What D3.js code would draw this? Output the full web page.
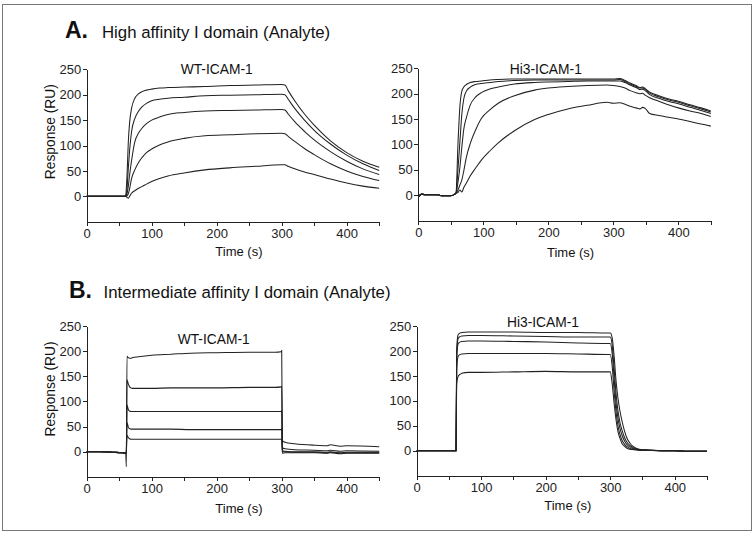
<!DOCTYPE html>
<html>
<head>
<meta charset="utf-8">
<script src="https://cdn.jsdelivr.net/npm/d3@7"></script>
<style>
  body { margin: 0; background: #fff; }
  svg { display: block; font-family: 'Liberation Sans', Arial, sans-serif; }
  .axis path, .axis line { stroke: #222; stroke-width: 1; shape-rendering: crispEdges; }
  .axis text { fill: #222; font-size: 13px; font-family: 'Liberation Sans', Arial, sans-serif; }
  .trace { fill: none; stroke: #222; stroke-width: 1.05; }
</style>
</head>
<body>
<svg id="chart" width="755" height="535"></svg>
<script>
// ticks
var yTicks = [0, 50, 100, 150, 200, 250];
var xTicks = [0, 50, 100, 150, 200, 250, 300, 350, 400, 450];
var xLabels = [0, 100, 200, 300, 400];

// A. high affinity, WT-ICAM-1
var timesAWt = [0, 20, 40, 58, 60, 62, 64, 66, 69, 74, 80, 85, 92, 100, 112, 125, 150, 182, 220, 260, 300, 305, 310, 320, 335, 350, 375, 400, 425, 450];
var seriesAWt = [
  [0, 0, 0, 0, 2, 40, 107, 145, 173, 193, 202, 206, 209, 211, 213, 214, 215, 216, 218, 219, 220, 219, 208, 188, 162, 140, 109, 86, 69, 57],
  [0, 0, 0, 0, 1, 15, 55, 90, 127, 153, 168, 176, 183, 188, 191, 193, 195, 198, 199, 200, 201, 200, 191, 173, 150, 130, 103, 81, 64, 51],
  [0, 0, 0, 0, 0, 5, 20, 42, 70, 107, 125, 134, 143, 150, 156, 161, 165, 168, 169, 170, 171, 170, 162, 147, 128, 111, 88, 69, 54, 43],
  [0, 0, 0, 0, 0, 1, 5, 15, 35, 52, 67, 76, 86, 93, 101, 107, 114, 119, 121, 123, 124, 123, 118, 108, 94, 82, 64, 50, 39, 31],
  [0, 0, 0, 0, 0, -2, -4, 0, 6, 11, 16, 19, 24, 29, 35, 40, 46, 52, 56, 59, 62, 62, 59, 54, 48, 43, 34, 26, 20, 16]
];

// A. high affinity, Hi3-ICAM-1
var timesAHi3 = [0, 5, 10, 30, 35, 50, 55, 58, 61, 64, 67, 70, 74, 80, 88, 97, 110, 123, 148, 179, 200, 230, 260, 290, 300, 310, 318, 326, 335, 341, 345, 349, 356, 370, 387, 400, 418, 435, 450];
var seriesAHi3 = [
  [-4, 2, 1, 1, -1, -1, 1, 4, 100, 175, 205, 213, 218, 222, 224, 225, 227, 228, 229, 229, 229, 229, 229, 229, 229, 230, 226, 221, 216, 212, 213, 210, 203, 196, 189, 185, 178, 172, 166],
  [-4, 2, 1, 1, -1, -1, 1, 4, 50, 105, 160, 190, 205, 213, 218, 220, 222, 224, 226, 227, 227, 227, 227, 227, 227, 228, 224, 219, 214, 211, 211, 209, 201, 194, 187, 183, 176, 170, 164],
  [-4, 2, 1, 1, -1, -1, 1, 4, 25, 55, 95, 130, 153, 178, 193, 202, 209, 213, 219, 222, 223, 224, 225, 225, 225, 225, 222, 217, 212, 208, 209, 206, 198, 191, 184, 180, 173, 167, 161],
  [-4, 2, 1, 1, -1, -1, 1, 4, 10, 20, 30, 48, 75, 102, 128, 151, 168, 181, 196, 207, 211, 214, 216, 217, 216, 214, 211, 206, 202, 200, 201, 197, 192, 185, 177, 172, 166, 161, 155],
  [-4, 2, 1, 1, -1, -1, 1, 4, 5, 10, 6, 15, 24, 38, 53, 69, 87, 103, 127, 149, 159, 170, 177, 183, 181, 182, 179, 175, 172, 170, 173, 171, 161, 157, 153, 150, 145, 140, 136]
];

// B. intermediate affinity, WT-ICAM-1
var timesBWt = [0, 20, 40, 55, 60, 61, 62, 64, 66, 68, 70, 80, 100, 130, 160, 200, 250, 290, 299, 300, 301, 305, 320, 350, 370, 375, 390, 400, 450];
var seriesBWt = [
  [0, 0, -1, -2, -3, -30, 190, 187, 186, 186, 187, 189, 192, 194, 196, 197, 198, 198, 199, 201, 22, 19, 16, 13, 12, 14, 11, 12, 10],
  [0, 0, -1, -2, -3, 0, 143, 135, 129, 127, 126, 126, 126, 127, 127, 127, 128, 128, 129, 130, 8, 6, 4, 3, 2, 3, 1, 2, 1],
  [0, 0, -1, -2, -3, 0, 93, 84, 81, 80, 80, 80, 80, 80, 80, 80, 80, 80, 80, 82, 2, 1, 0, 0, -1, 0, -2, -1, -1],
  [0, 0, -1, -2, -3, 0, 58, 49, 46, 45, 45, 45, 45, 45, 44, 44, 44, 44, 44, 46, 0, 0, -1, -1, -2, -1, -3, -2, -2],
  [0, 0, -1, -2, -3, 0, 33, 28, 26, 25, 25, 25, 25, 25, 25, 25, 25, 25, 25, 26, -3, -2, -2, -2, -3, -2, -4, -3, -3]
];

// B. intermediate affinity, Hi3-ICAM-1
var timesBHi3 = [0, 20, 40, 60, 61, 62, 64, 66, 70, 80, 100, 150, 200, 250, 297, 300, 303, 306, 309, 312, 315, 318, 322, 326, 330, 336, 345, 360, 380, 400, 420, 450];
var seriesBHi3 = [
  [0, 0, 0, 0, 0, 200, 232, 235, 237, 238, 238, 238, 237, 237, 236, 236, 226, 190, 140, 105, 80, 61, 40, 25, 16, 8, 3, 1, 0, 0, -1, -1],
  [0, 0, 0, 0, 0, 195, 224, 228, 230, 231, 231, 230, 229, 228, 228, 228, 212, 165, 115, 80, 57, 42, 27, 17, 11, 6, 2, 1, 0, 0, -1, -1],
  [0, 0, 0, 0, 0, 185, 213, 217, 219, 220, 220, 219, 218, 216, 215, 215, 195, 145, 96, 65, 45, 32, 20, 12, 8, 4, 2, 1, 0, 0, -1, -1],
  [0, 0, 0, 0, 0, 165, 188, 192, 194, 195, 195, 195, 195, 194, 193, 193, 170, 120, 78, 50, 33, 22, 13, 8, 5, 3, 1, 1, 0, 0, -1, -1],
  [0, 0, 0, 0, 0, 135, 148, 152, 155, 157, 157, 158, 159, 158, 158, 158, 135, 95, 62, 38, 25, 15, 9, 5, 3, 2, 1, 1, 0, 0, -1, -1]
];

var panels = [
  {times: timesAWt, series: seriesAWt, left: 86.7, right: 379.2, top: 69.3, bottom: 221.7,
   title: 'WT-ICAM-1', titleX: 216.7, titleY: 74, ylabelY: 131.7, xlabelY: 256},
  {times: timesAHi3, series: seriesAHi3, left: 418.3, right: 710.8, top: 68.3, bottom: 220.5,
   title: 'Hi3-ICAM-1', titleX: 545.8, titleY: 74, ylabelY: null, xlabelY: 257},
  {times: timesBWt, series: seriesBWt, left: 86.7, right: 379.2, top: 326, bottom: 476.9,
   title: 'WT-ICAM-1', titleX: 213.7, titleY: 344, ylabelY: 389, xlabelY: 513},
  {times: timesBHi3, series: seriesBHi3, left: 416.7, right: 707, top: 326, bottom: 475.6,
   title: 'Hi3-ICAM-1', titleX: 543, titleY: 326.5, ylabelY: null, xlabelY: 510}
];

var svg = d3.select('#chart');

svg.append('rect')
  .attr('x', 2.5)
  .attr('y', 4.5)
  .attr('width', 749)
  .attr('height', 526)
  .style('fill', '#fff')
  .style('stroke', '#777')
  .style('stroke-width', 1)
;

// section headings
var headings = [
  {letter: 'A.', text: 'High affinity I domain (Analyte)', lx: 65, tx: 102, y: 37.5},
  {letter: 'B.', text: 'Intermediate affinity I domain (Analyte)', lx: 69, tx: 103.5, y: 297.5}
];
headings.forEach(function(h) {
  svg.append('text')
    .attr('x', h.lx)
    .attr('y', h.y)
    .style('font-size', '23px')
    .style('font-weight', 'bold')
    .style('fill', '#111')
    .text(h.letter)
  ;
  svg.append('text')
    .attr('x', h.tx)
    .attr('y', h.y)
    .style('font-size', '16.8px')
    .style('fill', '#111')
    .text(h.text)
  ;
});

panels.forEach(function(p) {
  var x = d3.scaleLinear().domain([0, 450]).range([p.left, p.right]);
  var y = d3.scaleLinear().domain([-50, 250]).range([p.bottom, p.top]);

  svg.append('g')
    .attr('class', 'axis')
    .attr('transform', 'translate(0,' + p.bottom + ')')
    .call(d3.axisBottom(x)
      .tickValues(xTicks)
      .tickSize(4)
      .tickSizeOuter(0)
      .tickPadding(3)
      .tickFormat(function(d) { return xLabels.indexOf(d) >= 0 ? d : ''; }))
  ;

  svg.append('g')
    .attr('class', 'axis')
    .attr('transform', 'translate(' + p.left + ',0)')
    .call(d3.axisLeft(y)
      .tickValues(yTicks)
      .tickSize(4)
      .tickSizeOuter(0)
      .tickPadding(1.5))
  ;

  var line = d3.line()
    .x(function(d, i) { return x(p.times[i]); })
    .y(function(d) { return y(d); })
    .curve(d3.curveMonotoneX)
  ;

  svg.append('g')
    .selectAll('path')
    .data(p.series)
    .join('path')
      .attr('class', 'trace')
      .attr('d', line)
  ;

  svg.append('text')
    .attr('x', p.titleX)
    .attr('y', p.titleY)
    .attr('text-anchor', 'middle')
    .style('font-size', '13.8px')
    .style('fill', '#111')
    .text(p.title)
  ;

  svg.append('text')
    .attr('x', (p.left + p.right) / 2 + 6)
    .attr('y', p.xlabelY)
    .attr('text-anchor', 'middle')
    .style('font-size', '13px')
    .style('fill', '#111')
    .text('Time (s)')
  ;

  if (p.ylabelY !== null) {
    svg.append('text')
      .attr('transform', 'translate(55,' + p.ylabelY + ') rotate(-90)')
      .attr('text-anchor', 'middle')
      .style('font-size', '13.8px')
      .style('fill', '#111')
      .text('Response (RU)')
    ;
  }
});
</script>
</body>
</html>
